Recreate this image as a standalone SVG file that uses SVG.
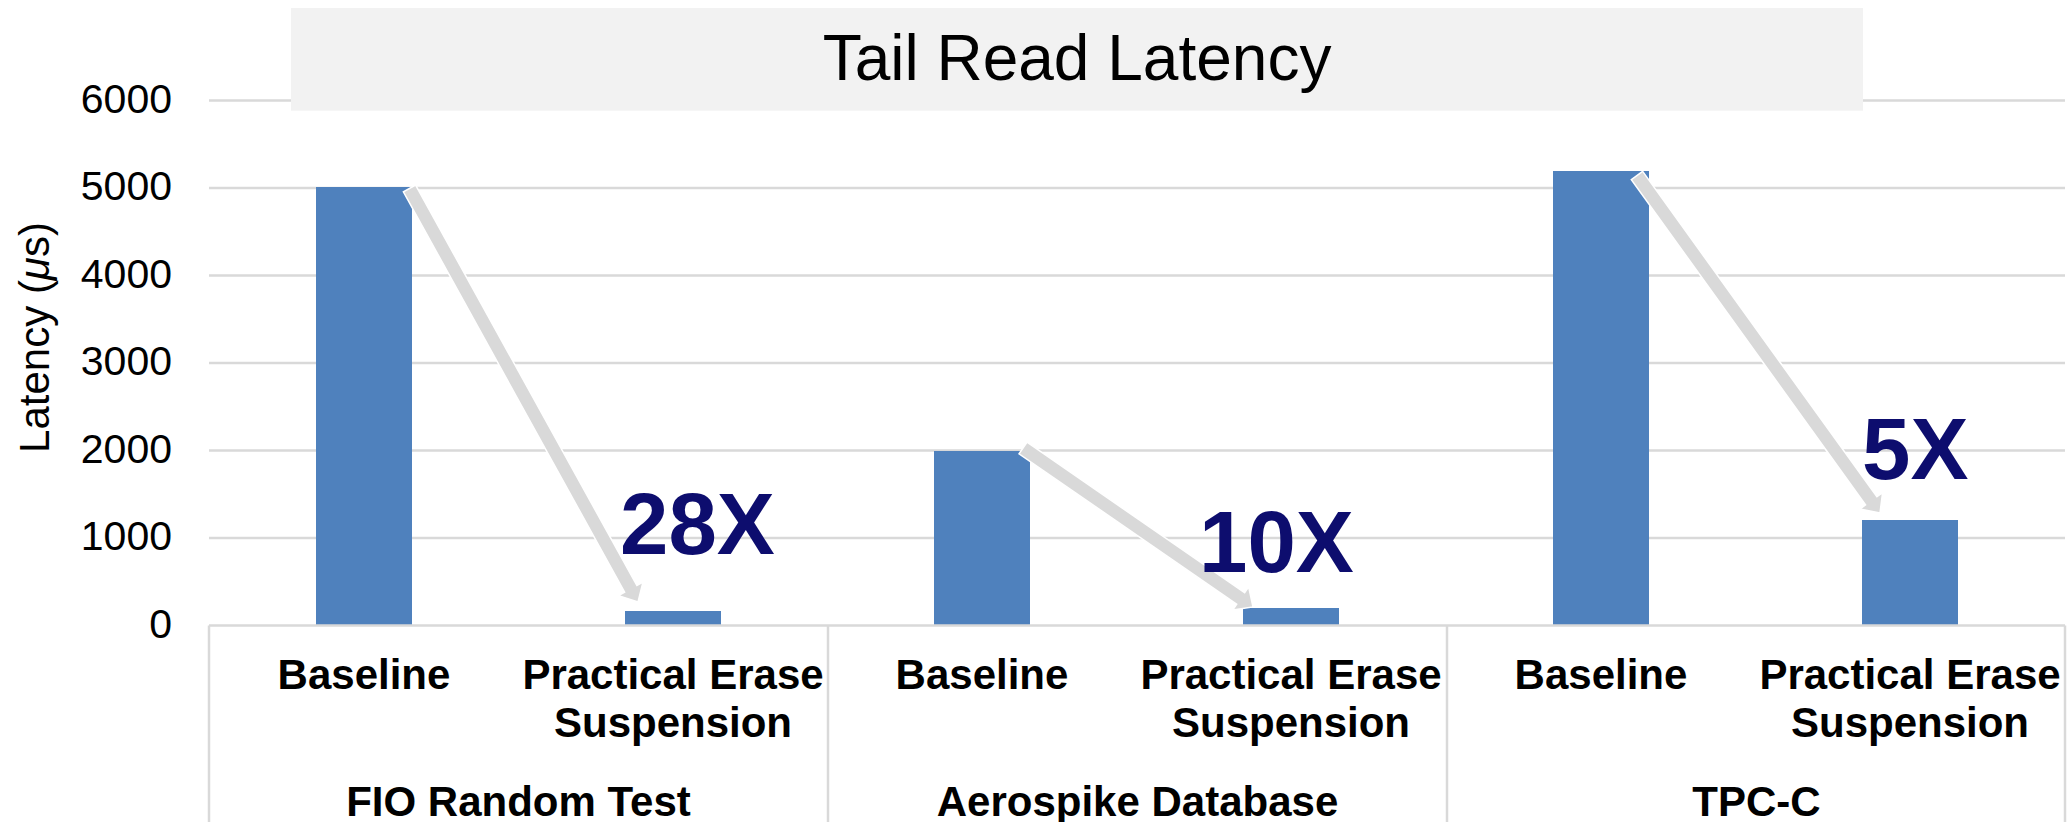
<svg xmlns="http://www.w3.org/2000/svg" width="2072" height="822" viewBox="0 0 2072 822">
<style>
  text { font-family: "Liberation Sans", Arial, sans-serif; fill: #000; }
  .grid { stroke: #d9d9d9; stroke-width: 2.5; fill: none; }
  .ylab { font-size: 41px; text-anchor: end; }
  .cat { font-size: 42px; font-weight: bold; text-anchor: middle; }
  .bar { fill: #4f81bd; }
  .arrow { fill: #d9d9d9; stroke: #ffffff; stroke-width: 1.5; stroke-linejoin: miter; }
  .factor { font-size: 87px; font-weight: bold; fill: #0d0d6e; }
</style>
<rect x="0" y="0" width="2072" height="822" fill="#ffffff"/>

<g id="gridlines">
  <line class="grid" x1="209" y1="100.5" x2="2065" y2="100.5"/>
  <line class="grid" x1="209" y1="188" x2="2065" y2="188"/>
  <line class="grid" x1="209" y1="275.5" x2="2065" y2="275.5"/>
  <line class="grid" x1="209" y1="363" x2="2065" y2="363"/>
  <line class="grid" x1="209" y1="450.5" x2="2065" y2="450.5"/>
  <line class="grid" x1="209" y1="538" x2="2065" y2="538"/>
</g>

<g id="title">
  <rect x="291" y="8" width="1572" height="102.7" fill="#f2f2f2"/>
  <text x="1077" y="80" font-size="64" text-anchor="middle">Tail Read Latency</text>
</g>

<g id="y-axis">
  <text class="ylab" x="172" y="112.5">6000</text>
  <text class="ylab" x="172" y="200">5000</text>
  <text class="ylab" x="172" y="287.5">4000</text>
  <text class="ylab" x="172" y="375">3000</text>
  <text class="ylab" x="172" y="462.5">2000</text>
  <text class="ylab" x="172" y="550">1000</text>
  <text class="ylab" x="172" y="637.5">0</text>
  <text transform="translate(49,337.5) rotate(-90)" font-size="42" text-anchor="middle">Latency (<tspan font-style="italic">μ</tspan>s)</text>
</g>

<g id="bars">
  <rect id="bar-fio-baseline" class="bar" x="316" y="187" width="96" height="438.5"/>
  <rect id="bar-fio-pes" class="bar" x="625" y="611" width="96" height="14.5"/>
  <rect id="bar-aero-baseline" class="bar" x="934" y="451" width="96" height="174.5"/>
  <rect id="bar-aero-pes" class="bar" x="1243" y="608" width="96" height="17.5"/>
  <rect id="bar-tpcc-baseline" class="bar" x="1553" y="171" width="96" height="454.5"/>
  <rect id="bar-tpcc-pes" class="bar" x="1862" y="520" width="96" height="105.5"/>
</g>

<g id="category-axis">
  <line class="grid" x1="209" y1="625.5" x2="2065" y2="625.5"/>
  <line class="grid" x1="209" y1="625.5" x2="209" y2="822"/>
  <line class="grid" x1="828" y1="625.5" x2="828" y2="822"/>
  <line class="grid" x1="1447" y1="625.5" x2="1447" y2="822"/>
  <line class="grid" x1="2065" y1="625.5" x2="2065" y2="822"/>
</g>

<g id="category-labels">
  <text class="cat" x="364" y="689">Baseline</text>
  <text class="cat" x="673" y="689">Practical Erase</text>
  <text class="cat" x="673" y="737">Suspension</text>
  <text class="cat" x="982" y="689">Baseline</text>
  <text class="cat" x="1291" y="689">Practical Erase</text>
  <text class="cat" x="1291" y="737">Suspension</text>
  <text class="cat" x="1601" y="689">Baseline</text>
  <text class="cat" x="1910" y="689">Practical Erase</text>
  <text class="cat" x="1910" y="737">Suspension</text>
  <text class="cat" x="518.5" y="816">FIO Random Test</text>
  <text class="cat" x="1137.5" y="816">Aerospike Database</text>
  <text class="cat" x="1756.5" y="816">TPC-C</text>
</g>

<g id="connectors">
  <polygon class="arrow" transform="translate(409.5,188.5) rotate(61.07)" points="0,-7 457.4,-7 457.4,-14 472.4,0 457.4,14 457.4,7 0,7"/>
  <polygon class="arrow" transform="translate(1023,448) rotate(34.65)" points="0,-7 264.6,-7 264.6,-14 279.6,0 264.6,14 264.6,7 0,7"/>
  <polygon class="arrow" transform="translate(1637,175.5) rotate(54.25)" points="0,-7 400.9,-7 400.9,-14 415.9,0 400.9,14 400.9,7 0,7"/>
</g>

<g id="factors">
  <text class="factor" x="620" y="554">28X</text>
  <text class="factor" x="1199" y="572">10X</text>
  <text class="factor" x="1862" y="479">5X</text>
</g>
</svg>
